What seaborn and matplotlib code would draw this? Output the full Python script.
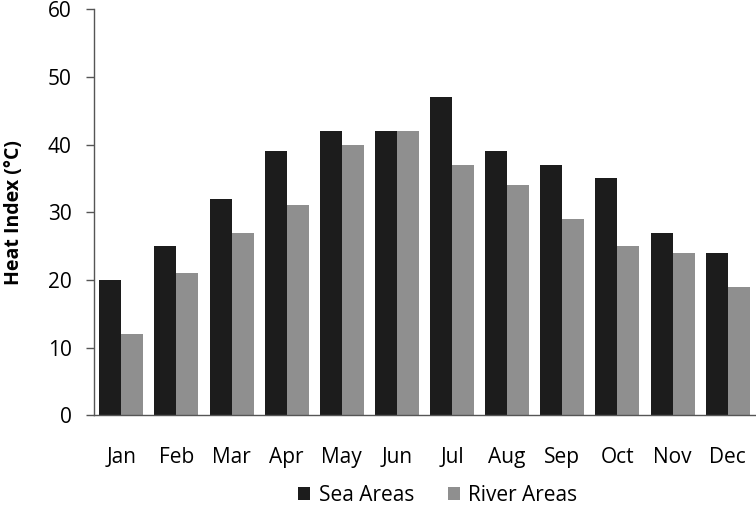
import pandas as pd
import matplotlib.pyplot as plt
import seaborn as sns

months = ["Jan", "Feb", "Mar", "Apr", "May", "Jun", "Jul", "Aug", "Sep", "Oct", "Nov", "Dec"]
sea = [20, 25, 32, 39, 42, 42, 47, 39, 37, 35, 27, 24]
river = [12, 21, 27, 31, 40, 42, 37, 34, 29, 25, 24, 19]
series = ["Sea Areas", "River Areas"]
colors = ["#1c1c1c", "#8f8f8f"]

df = pd.DataFrame({
    "Month": months * 2,
    "Heat": sea + river,
    "Area": [series[0]] * len(months) + [series[1]] * len(months),
})

sns.set_style("white")
plt.rcParams["font.family"] = ["Open Sans", "DejaVu Sans"]
plt.rcParams["text.color"] = "black"

fig = plt.figure(figsize=(7.56, 5.12), dpi=100)
ax = fig.add_axes([0.124, 0.189, 0.875, 0.793])

sns.barplot(data=df, x="Month", y="Heat", hue="Area", palette=colors,
            width=0.8, linewidth=0, saturation=1, ax=ax)

ax.set_ylim(0, 60)
ax.set_yticks(range(0, 61, 10))
ax.set_xlim(-0.5, 11.5)
ax.set_xlabel("")
ax.set_ylabel("Heat Index (°C)", fontsize=14, fontweight="bold", labelpad=17, color="black")

sns.despine(ax=ax)
for s in ["left", "bottom"]:
    ax.spines[s].set_color("#555555")
    ax.spines[s].set_linewidth(1)
ax.tick_params(axis="y", length=6, width=1, color="#555555", pad=10, labelsize=15,
               left=True, labelcolor="black")
ax.tick_params(axis="x", length=0, pad=23, labelsize=15, labelcolor="black")

ax.legend(loc="center", bbox_to_anchor=(0.52, -0.197), ncol=2, frameon=False,
          fontsize=15, handlelength=0.6, handleheight=0.6, handletextpad=0.4,
          columnspacing=1.6)

fig.savefig("out.png", dpi=100)
